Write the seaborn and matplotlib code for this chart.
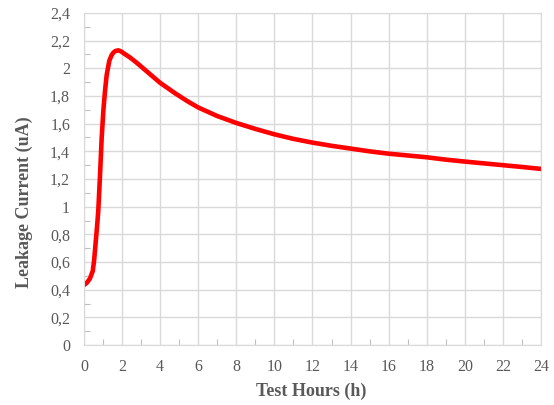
import matplotlib
matplotlib.use("Agg")
import matplotlib.pyplot as plt
import pandas as pd
import seaborn as sns
from matplotlib.ticker import MultipleLocator, FuncFormatter

# values
hours = [0, 0.15, 0.31, 0.46, 0.53, 0.61, 0.70, 0.75, 0.84, 0.93, 1.02, 1.10,
         1.19, 1.33, 1.45, 1.54, 1.65, 1.80, 1.95, 2.07, 2.4, 2.77, 3.38, 4.0,
         4.78, 5.4, 6, 7, 8, 9, 10, 11, 12, 13, 14, 15, 16, 17, 18, 19, 20, 21,
         22, 23, 24]
current = [0.434, 0.45, 0.48, 0.535, 0.61, 0.735, 0.88, 0.97, 1.22, 1.50, 1.70,
           1.83, 1.95, 2.055, 2.095, 2.113, 2.125, 2.13, 2.122, 2.11, 2.08,
           2.04, 1.968, 1.895, 1.82, 1.765, 1.717, 1.655, 1.605, 1.562, 1.523,
           1.49, 1.463, 1.44, 1.42, 1.40, 1.383, 1.37, 1.357, 1.34, 1.326,
           1.313, 1.30, 1.287, 1.273]

df = pd.DataFrame({'hours': hours, 'current': current})

sns.set_style("whitegrid", {'grid.color': '#d9d9d9', 'axes.edgecolor': '#d9d9d9'})
plt.rcParams['font.family'] = ['Liberation Serif', 'DejaVu Serif']

fig, ax = plt.subplots(figsize=(5.54, 4.05), dpi=100)
fig.subplots_adjust(left=0.1516, right=0.9765, bottom=0.148, top=0.968)

sns.lineplot(data=df, x='hours', y='current', ax=ax, color='#ff0000',
             linewidth=3.3, solid_joinstyle='round', solid_capstyle='round')

ax.set_xlim(0, 24)
ax.set_ylim(0, 2.4)
ax.xaxis.set_major_locator(MultipleLocator(2))
ax.yaxis.set_major_locator(MultipleLocator(0.2))
ax.xaxis.set_minor_locator(MultipleLocator(1))
ax.yaxis.set_minor_locator(MultipleLocator(0.1))
ax.yaxis.set_major_formatter(FuncFormatter(lambda v, p: '{:g}'.format(round(v, 2)).replace('.', ',')))
ax.grid(True, which='major', color='#d9d9d9', linewidth=1)
ax.tick_params(which='minor', bottom=True, left=True, direction='in',
               length=4, width=0.8, color='#bfbfbf')
ax.tick_params(which='major', labelsize=11.5, labelcolor='#595959', pad=10, length=0)

ax.set_xlabel('Test Hours (h)', fontsize=13, fontweight='bold', color='#595959')
ax.set_ylabel('Leakage Current (uA)', fontsize=13, fontweight='bold', color='#595959')
ax.xaxis.set_label_coords(0.497, -0.114)
ax.yaxis.set_label_coords(-0.112, 0.43)

fig.savefig('out.png', dpi=100)
